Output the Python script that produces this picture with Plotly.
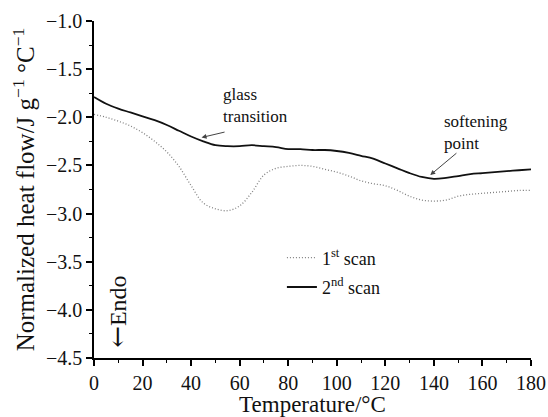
import plotly.graph_objects as go

temperature = [0, 5, 10, 15, 20, 25, 30, 35, 40, 45, 50, 55, 60, 65, 70, 75, 80, 85, 90,
               95, 100, 105, 110, 115, 120, 125, 130, 135, 140, 145, 150, 155, 160, 165,
               170, 175, 180]
scan1 = [-1.97, -2.00, -2.04, -2.09, -2.16, -2.25, -2.36, -2.51, -2.71, -2.89, -2.95, -2.97,
         -2.92, -2.78, -2.60, -2.53, -2.51, -2.50, -2.51, -2.54, -2.57, -2.61, -2.66, -2.69,
         -2.71, -2.76, -2.82, -2.86, -2.87, -2.86, -2.82, -2.80, -2.79, -2.78, -2.77, -2.76,
         -2.76]
scan2 = [-1.79, -1.86, -1.91, -1.95, -1.99, -2.03, -2.08, -2.14, -2.20, -2.25, -2.29, -2.30,
         -2.30, -2.29, -2.30, -2.31, -2.33, -2.33, -2.34, -2.34, -2.35, -2.37, -2.40, -2.43,
         -2.48, -2.53, -2.58, -2.62, -2.64, -2.63, -2.61, -2.59, -2.58, -2.57, -2.56, -2.55,
         -2.54]
x_ticks = [0, 20, 40, 60, 80, 100, 120, 140, 160, 180]
y_ticks = [-1.0, -1.5, -2.0, -2.5, -3.0, -3.5, -4.0, -4.5]

FONT = "Liberation Serif, Times New Roman, DejaVu Serif, serif"

fig = go.Figure()
fig.add_trace(go.Scatter(x=temperature, y=scan1, mode="lines", line_shape="spline",
                         line=dict(color="#808080", width=1.3, dash="1px,2px"),
                         name="1<sup>st</sup> scan", legendgroup="a"))
fig.add_trace(go.Scatter(x=temperature, y=scan2, mode="lines", line_shape="spline",
                         line=dict(color="#111111", width=1.8),
                         name="2<sup>nd</sup> scan", legendgroup="b"))

fig.add_annotation(x=44.3, y=-2.21, ax=54.4, ay=-2.15, axref="x", ayref="y",
                   text="", showarrow=True, arrowhead=2, arrowsize=1, arrowwidth=1,
                   arrowcolor="#444444")
fig.add_annotation(x=138.5, y=-2.60, ax=149.9, ay=-2.36, axref="x", ayref="y",
                   text="", showarrow=True, arrowhead=2, arrowsize=1, arrowwidth=1,
                   arrowcolor="#444444")
fig.add_annotation(x=52.5, y=-1.88, text="glass<br>transition", showarrow=False,
                   xanchor="left", align="left",
                   font=dict(family=FONT, size=17, color="#111111"))
fig.add_annotation(x=143.5, y=-2.155, text="softening<br>point", showarrow=False,
                   xanchor="left", align="left",
                   font=dict(family=FONT, size=17, color="#111111"))
fig.add_annotation(x=9.5, y=-4.02,
                   text="<span style='font-family:DejaVu Serif;font-size:26px'>←</span>Endo",
                   textangle=-90, showarrow=False,
                   font=dict(family=FONT, size=24, color="#111111"))

axis_common = dict(showline=True, linecolor="black", linewidth=1.5, mirror=False,
                   ticks="outside", ticklen=6, tickwidth=1.5, tickcolor="black",
                   showgrid=False, zeroline=False, automargin=False,
                   tickfont=dict(family=FONT, size=20, color="#111111"))

fig.update_layout(
    width=548, height=417,
    margin=dict(l=94, r=17, t=21, b=59),
    paper_bgcolor="white", plot_bgcolor="white",
    font=dict(family=FONT),
    showlegend=True,
    legend=dict(x=0.43, y=0.352, xanchor="left", yanchor="top",
                font=dict(family=FONT, size=18, color="#111111"),
                bgcolor="rgba(0,0,0,0)", tracegroupgap=3),
    xaxis=dict(range=[0, 180], tickvals=x_ticks,
               minor=dict(dtick=10, tick0=0, ticks="outside", ticklen=3, tickwidth=1.2,
                          tickcolor="black"),
               title=dict(text="Temperature/°C", standoff=2,
                          font=dict(family=FONT, size=23, color="#111111")),
               **axis_common),
    yaxis=dict(range=[-4.5, -1.0], tickvals=y_ticks,
               ticktext=["−" + f"{abs(v):.1f}" for v in y_ticks],
               minor=dict(dtick=0.25, tick0=-4.5, ticks="outside", ticklen=3, tickwidth=1.2,
                          tickcolor="black"),
               title=dict(text="Normalized heat flow/J g<sup>−1</sup> °C<sup>−1</sup>", standoff=4,
                          font=dict(family=FONT, size=25, color="#111111")),
               **axis_common),
)

fig.write_html("out.html")
